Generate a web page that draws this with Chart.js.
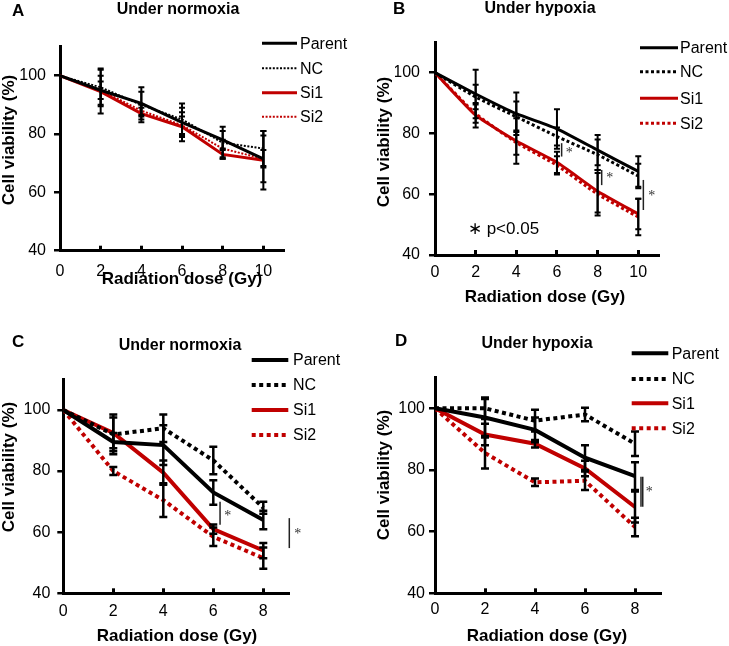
<!DOCTYPE html>
<html>
<head>
<meta charset="utf-8">
<script src="https://cdn.jsdelivr.net/npm/chart.js@4.4.1/dist/chart.umd.min.js"></script>
<style>
  html, body { margin: 0; padding: 0; background: #fff; }
  #wrap { position: relative; width: 729px; height: 646px; }
  #wrap canvas { position: absolute; left: 0; top: 0; }
</style>
</head>
<body>
<div id="wrap">
  <canvas id="chartA" width="729" height="646"></canvas>
  <canvas id="chartB" width="729" height="646"></canvas>
  <canvas id="chartC" width="729" height="646"></canvas>
  <canvas id="chartD" width="729" height="646"></canvas>
</div>
<script>
// ---- data ----
const seriesNames = ['Parent', 'NC', 'Si1', 'Si2'];
const doseAB = [0, 2, 4, 6, 8, 10];
const doseCD = [0, 2, 4, 6, 8];
const xTicksAB = [0, 2, 4, 6, 8, 10];
const xTicksCD = [0, 2, 4, 6, 8];
const yTicks = [40, 60, 80, 100];

// A: normoxia
const aParent = [100, 95, 90.5, 84, 78, 71.5];
const aNc     = [100, 96, 90, 85, 77, 75];
const aSi1    = [100, 94.5, 87, 82.5, 73, 71];
const aSi2    = [100, 95, 88, 83, 75, 71.5];
const aParentErr = [0, 5, 4, 5, 3, 3];
const aNcErr     = [0, 6.5, 6, 5.5, 5.5, 6];
const aSi1Err    = [0, 7.5, 2, 5, 1.5, 10];
const aSi2Err    = [0, 3, 2, 3, 3, 8];

// B: hypoxia
const bParent = [100, 93, 86.5, 81.5, 74.5, 67.5];
const bNc     = [100, 92, 85.5, 79, 73, 66];
const bSi1    = [100, 86, 77.5, 70.5, 61, 53.5];
const bSi2    = [100, 86.5, 77, 69.5, 60, 52.5];
const bParentErr = [0, 8, 7, 6.5, 5, 5];
const bNcErr     = [0, 4, 5, 3, 5, 4];
const bSi1Err    = [0, 4, 7.5, 3.5, 7, 5];
const bSi2Err    = [0, 3, 4, 3, 7, 6];

// C: normoxia
const cParent = [100, 89.5, 88.5, 73, 64];
const cNc     = [100, 92, 94, 83.5, 68];
const cSi1    = [100, 92.5, 79.5, 61, 54];
const cSi2    = [100, 80, 70.5, 58.5, 51.5];
const cParentErr = [0, 3, 6.5, 4, 3];
const cNcErr     = [0, 6.5, 4.5, 4.5, 2];
const cSi1Err    = [0, 5, 4, 1.5, 2.5];
const cSi2Err    = [0, 1.3, 5.5, 3, 3.5];

// D: hypoxia
const dParent = [100, 97, 93, 84, 78];
const dNc     = [100, 100, 96, 98, 88.5];
const dSi1    = [100, 91.5, 88.5, 80.5, 68];
const dSi2    = [100, 85.5, 76, 76.5, 61.5];
const dParentErr = [0, 6, 4, 4, 4.5];
const dNcErr     = [0, 3.5, 3.5, 2.2, 4];
const dSi1Err    = [0, 3.5, 1.2, 2.5, 5];
const dSi2Err    = [0, 5, 1.2, 3, 3];

// significance bars [dose, yTop, yBottom] and stars [dose, y]
const sigB   = [[6.23, 76.8, 72.4], [8.2, 68, 63], [10.25, 64.7, 54.8]];
const starsB = [[6.6, 74], [8.6, 65.8], [10.66, 60]];
const sigC   = [[6.27, 70, 62.4], [9.04, 64.6, 54.8]];
const starsC = [[6.58, 65.7], [9.38, 59.9]];
const sigD   = [[8.24, 77.8, 68.1], [8.31, 77.8, 68.1]];
const starsD = [[8.57, 73.3]];

const BLACK = '#000000';
const RED = '#c00000';

// ---- panel layout ----
const panels = [
  { id: 'chartA', letter: 'A', title: 'Under normoxia', dose: doseAB, xTicks: xTicksAB, xMax: 11,
    series: [[aParent, aParentErr], [aNc, aNcErr], [aSi1, aSi1Err], [aSi2, aSi2Err]],
    sig: [], stars: [], note: null,
    area: { l: 60, t: 46.5, r: 283.7, b: 250.7 }, xPad: 16.4, yPad: 8,
    solidW: 3, dotW: 2, dash: [2, 1.6], tension: 0, capW: 6, errW: 2,
    legend: { x1: 262, x2: 297, tx: 300, rows: [43.3, 68.3, 92.7, 116.7] },
    letterAt: [12, 11], titleAt: [178, 10], xTitleAt: [182, 279], yTitleAt: [9, 140] },
  { id: 'chartB', letter: 'B', title: 'Under hypoxia', dose: doseAB, xTicks: xTicksAB, xMax: 11,
    series: [[bParent, bParentErr], [bNc, bNcErr], [bSi1, bSi1Err], [bSi2, bSi2Err]],
    sig: sigB, stars: starsB, note: [1.62, 48.5],
    area: { l: 435, t: 42.3, r: 658.6, b: 255 }, xPad: 13.4, yPad: 9,
    solidW: 3, dotW: 3, dash: [3, 2.5], tension: 0.15, capW: 6, errW: 2,
    legend: { x1: 640, x2: 678, tx: 680, rows: [47.7, 71.7, 98.3, 123.3] },
    letterAt: [393, 9], titleAt: [540, 9], xTitleAt: [545, 297], yTitleAt: [384, 142] },
  { id: 'chartC', letter: 'C', title: 'Under normoxia', dose: doseCD, xTicks: xTicksCD, xMax: 9,
    series: [[cParent, cParentErr], [cNc, cNcErr], [cSi1, cSi1Err], [cSi2, cSi2Err]],
    sig: sigC, stars: starsC, note: null,
    area: { l: 63.3, t: 379.4, r: 288.3, b: 593.3 }, xPad: 13.7, yPad: 7,
    solidW: 4, dotW: 4, dash: [4, 3.5], tension: 0, capW: 8, errW: 2.5,
    legend: { x1: 251.7, x2: 288.3, tx: 293, rows: [360, 385, 410, 435] },
    letterAt: [12, 342], titleAt: [180, 346], xTitleAt: [177, 636], yTitleAt: [9, 467] },
  { id: 'chartD', letter: 'D', title: 'Under hypoxia', dose: doseCD, xTicks: xTicksCD, xMax: 9,
    series: [[dParent, dParentErr], [dNc, dNcErr], [dSi1, dSi1Err], [dSi2, dSi2Err]],
    sig: sigD, stars: starsD, note: null,
    area: { l: 435, t: 377.5, r: 660, b: 593.3 }, xPad: 12.1, yPad: 4,
    solidW: 4, dotW: 4, dash: [4, 3.5], tension: 0, capW: 8, errW: 2.5,
    legend: { x1: 631.7, x2: 668.3, tx: 671.7, rows: [353.3, 379, 403.3, 428.3] },
    letterAt: [395, 341], titleAt: [537, 344], xTitleAt: [547, 636], yTitleAt: [384, 475] }
];
const panelById = {};
panels.forEach(p => { panelById[p.id] = p; });

const SANS = '"Liberation Sans", Arial, sans-serif';
Chart.defaults.color = BLACK;
Chart.defaults.font.family = SANS;

// error bars, significance marks, legend and titles
const panelDecor = {
  id: 'panelDecor',
  afterDatasetsDraw(chart) {
    const pn = panelById[chart.canvas.id];
    const ctx = chart.ctx;
    const xs = chart.scales.x, ys = chart.scales.y;
    ctx.save();

    // error bars (all black)
    ctx.strokeStyle = BLACK;
    ctx.lineWidth = pn.errW;
    ctx.setLineDash([]);
    const hw = pn.capW / 2;
    chart.data.datasets.forEach(ds => {
      ds.data.forEach((pt, k) => {
        const e = ds.errors[k];
        if (!e) return;
        const px = xs.getPixelForValue(pt.x);
        const top = ys.getPixelForValue(pt.y + e);
        const bot = ys.getPixelForValue(pt.y - e);
        ctx.beginPath();
        ctx.moveTo(px, top); ctx.lineTo(px, bot);
        ctx.moveTo(px - hw, top); ctx.lineTo(px + hw, top);
        ctx.moveTo(px - hw, bot); ctx.lineTo(px + hw, bot);
        ctx.stroke();
      });
    });

    // significance bars
    ctx.lineWidth = 1.5;
    ctx.strokeStyle = '#222';
    pn.sig.forEach(([d, y1, y2]) => {
      const px = xs.getPixelForValue(d);
      ctx.beginPath();
      ctx.moveTo(px, ys.getPixelForValue(y1));
      ctx.lineTo(px, ys.getPixelForValue(y2));
      ctx.stroke();
    });
    ctx.fillStyle = '#333';
    ctx.font = '14px "Liberation Serif", serif';
    ctx.textAlign = 'center';
    ctx.textBaseline = 'middle';
    pn.stars.forEach(([d, y]) => {
      ctx.fillText('*', xs.getPixelForValue(d), ys.getPixelForValue(y) + 2);
    });
    if (pn.note) {
      ctx.fillStyle = BLACK;
      ctx.font = '17px ' + SANS;
      ctx.textAlign = 'left';
      ctx.fillText('\u2217 p<0.05', xs.getPixelForValue(pn.note[0]), ys.getPixelForValue(pn.note[1]));
    }

    // legend
    const lg = pn.legend;
    chart.data.datasets.forEach((ds, i) => {
      const y = lg.rows[i];
      ctx.strokeStyle = ds.borderColor;
      ctx.lineWidth = ds.borderWidth;
      ctx.setLineDash(ds.borderDash || []);
      ctx.beginPath();
      ctx.moveTo(lg.x1, y);
      ctx.lineTo(lg.x2, y);
      ctx.stroke();
      ctx.setLineDash([]);
      ctx.fillStyle = BLACK;
      ctx.font = '16px ' + SANS;
      ctx.textAlign = 'left';
      ctx.textBaseline = 'middle';
      ctx.fillText(ds.label, lg.tx, y + 1);
    });

    // panel letter and title
    ctx.fillStyle = BLACK;
    ctx.textBaseline = 'middle';
    ctx.font = 'bold 17px ' + SANS;
    ctx.textAlign = 'left';
    ctx.fillText(pn.letter, pn.letterAt[0], pn.letterAt[1]);
    ctx.font = 'bold 16px ' + SANS;
    ctx.textAlign = 'center';
    ctx.fillText(pn.title, pn.titleAt[0], pn.titleAt[1]);

    // axis titles
    ctx.font = 'bold 17px ' + SANS;
    ctx.fillText('Radiation dose (Gy)', pn.xTitleAt[0], pn.xTitleAt[1]);
    ctx.translate(pn.yTitleAt[0], pn.yTitleAt[1]);
    ctx.rotate(-Math.PI / 2);
    ctx.fillText('Cell viability (%)', 0, 0);
    ctx.restore();
  }
};

const Y_W = 40, X_H = 40;

function buildChart(pn) {
  const colors = [BLACK, BLACK, RED, RED];
  const datasets = pn.series.map(([vals, errs], i) => {
    const dotted = i % 2 === 1;
    return {
      label: seriesNames[i],
      data: pn.dose.map((d, k) => ({ x: d, y: vals[k] })),
      errors: errs,
      borderColor: colors[i],
      borderWidth: dotted ? pn.dotW : pn.solidW,
      borderDash: dotted ? pn.dash : [],
      pointRadius: 0,
      tension: pn.tension,
      fill: false
    };
  });
  // draw solid lines over dotted ones
  const a = pn.area;
  return new Chart(document.getElementById(pn.id), {
    type: 'line',
    data: { datasets },
    plugins: [panelDecor],
    options: {
      responsive: false,
      animation: false,
      layout: {
        padding: { left: a.l - Y_W, top: a.t, right: 729 - a.r, bottom: Math.max(0, 646 - a.b - X_H) }
      },
      plugins: { legend: { display: false }, tooltip: { enabled: false }, title: { display: false } },
      scales: {
        x: {
          type: 'linear', min: 0, max: pn.xMax,
          afterBuildTicks: s => { s.ticks = pn.xTicks.map(v => ({ value: v })); },
          afterFit: s => { s.height = X_H; },
          border: { display: true, color: BLACK, width: 3 },
          grid: { display: true, drawOnChartArea: false, drawTicks: true, tickLength: -5, lineWidth: 3, color: BLACK },
          ticks: { padding: pn.xPad, font: { size: 16 }, color: BLACK, maxRotation: 0 }
        },
        y: {
          type: 'linear', min: 40, max: 110,
          afterBuildTicks: s => { s.ticks = yTicks.map(v => ({ value: v })); },
          afterFit: s => { s.width = Y_W; },
          border: { display: true, color: BLACK, width: 3 },
          grid: { display: true, drawOnChartArea: false, drawTicks: true, tickLength: 6, lineWidth: 2.5, color: BLACK },
          ticks: { padding: pn.yPad, font: { size: 16 }, color: BLACK }
        }
      }
    }
  });
}

panels.forEach(buildChart);
</script>
</body>
</html>
